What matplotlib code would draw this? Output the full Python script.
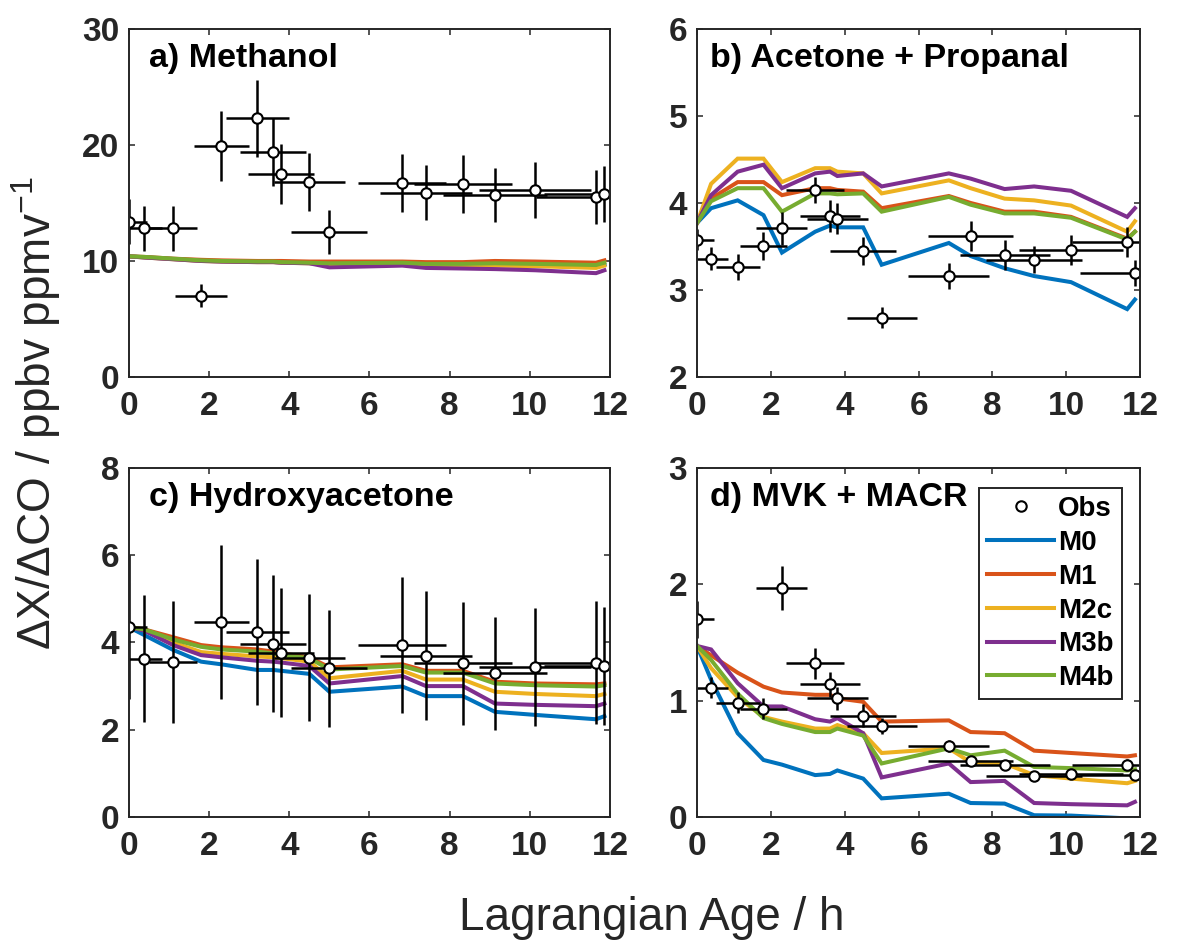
import numpy as np
import matplotlib
matplotlib.use("Agg")
import matplotlib.pyplot as plt
from matplotlib.lines import Line2D

plt.rcParams['font.family'] = ['Liberation Sans', 'DejaVu Sans']
plt.rcParams['mathtext.fontset'] = 'custom'
plt.rcParams['mathtext.rm'] = 'Liberation Sans'
plt.rcParams['mathtext.it'] = 'Liberation Sans'

# Lagrangian age of each plume sample (h) and its uncertainty
age = [0.0, 0.38, 1.1, 1.8, 2.3, 3.2, 3.6, 3.8, 4.5, 5.0, 6.82, 7.41, 8.33, 9.13, 10.13, 11.65, 11.86]
age_err = [0.45, 0.45, 0.6, 0.64, 0.69, 0.78, 0.82, 0.82, 0.89, 0.95, 1.1, 1.15, 1.22, 1.3, 1.4, 1.5, 1.5]

nan = np.nan

# a) Methanol
meoh_obs = [13.4, 12.8, 12.8, 7.0, 19.9, 22.3, 19.4, 17.5, 16.8, 12.5, 16.7, 15.9, 16.6, 15.7, 16.1, 15.5, 15.8]
meoh_err = [1.9, 1.9, 1.9, 1.0, 3.0, 3.3, 2.9, 2.6, 2.5, 1.9, 2.5, 2.4, 2.5, 2.3, 2.4, 2.3, 2.4]
meoh_M0 = [10.4, 10.32, 10.17, 10.02, 9.97, 9.92, 9.92, 9.87, 9.82, 9.7, 9.8, 9.68, 9.67, 9.7, 9.65, 9.5, 9.7]
meoh_M1 = [10.4, 10.35, 10.2, 10.1, 10.05, 10.0, 10.0, 10.0, 9.95, 9.95, 9.95, 9.9, 9.9, 10.0, 9.95, 9.85, 10.05]
meoh_M2c = [10.4, 10.3, 10.15, 10.0, 9.95, 9.9, 9.9, 9.85, 9.8, 9.65, 9.75, 9.6, 9.6, 9.6, 9.55, 9.4, 9.6]
meoh_M3b = [10.4, 10.3, 10.15, 10.0, 9.95, 9.9, 9.9, 9.85, 9.8, 9.45, 9.6, 9.4, 9.35, 9.3, 9.2, 8.95, 9.2]
meoh_M4b = [10.4, 10.35, 10.2, 10.05, 10.0, 9.95, 9.95, 9.9, 9.85, 9.8, 9.85, 9.75, 9.75, 9.8, 9.75, 9.65, 9.85]

# b) Acetone + Propanal
acet_obs = [3.58, 3.36, 3.26, 3.51, 3.71, 4.15, 3.85, 3.82, 3.45, 2.68, 3.16, 3.62, 3.40, 3.35, 3.46, 3.55, 3.20]
acet_err = [0.12, 0.13, 0.15, 0.16, 0.19, 0.15, 0.18, 0.18, 0.16, 0.12, 0.15, 0.17, 0.17, 0.16, 0.17, 0.17, 0.15]
acet_M0 = [3.77, 3.94, 4.03, 3.86, 3.43, 3.67, 3.74, 3.72, 3.72, 3.29, 3.54, 3.39, 3.25, 3.16, 3.09, 2.78, 2.89]
acet_M1 = [3.77, 4.05, 4.24, 4.24, 4.09, 4.17, 4.17, 4.15, 4.13, 3.94, 4.08, 4.0, 3.9, 3.9, 3.84, 3.59, 3.67]
acet_M2c = [3.77, 4.22, 4.51, 4.51, 4.24, 4.4, 4.4, 4.36, 4.34, 4.11, 4.26, 4.17, 4.05, 4.03, 3.97, 3.67, 3.79]
acet_M3b = [3.77, 4.09, 4.36, 4.44, 4.17, 4.34, 4.36, 4.31, 4.34, 4.19, 4.34, 4.28, 4.16, 4.19, 4.14, 3.84, 3.94]
acet_M4b = [3.77, 4.02, 4.17, 4.17, 3.9, 4.11, 4.11, 4.1, 4.11, 3.9, 4.07, 3.98, 3.88, 3.88, 3.83, 3.58, 3.67]

# c) Hydroxyacetone (no sample at 1.8 h)
hyac_obs = [4.35, 3.63, 3.55, nan, 4.47, 4.24, 3.97, 3.77, 3.65, 3.41, 3.94, 3.70, 3.52, 3.29, 3.43, 3.54, 3.46]
hyac_err = [1.65, 1.45, 1.4, nan, 1.77, 1.68, 1.57, 1.48, 1.45, 1.34, 1.56, 1.47, 1.41, 1.3, 1.35, 1.42, 1.35]
hyac_M0 = [4.35, 4.17, 3.83, 3.56, 3.5, 3.37, 3.37, 3.35, 3.28, 2.87, 2.99, 2.77, 2.77, 2.41, 2.34, 2.24, 2.31]
hyac_M1 = [4.35, 4.3, 4.12, 3.94, 3.89, 3.84, 3.79, 3.75, 3.66, 3.43, 3.5, 3.35, 3.35, 3.1, 3.06, 3.04, 3.06]
hyac_M2c = [4.35, 4.29, 4.0, 3.78, 3.74, 3.68, 3.66, 3.64, 3.56, 3.18, 3.35, 3.15, 3.15, 2.87, 2.82, 2.77, 2.82]
hyac_M3b = [4.35, 4.27, 3.94, 3.71, 3.66, 3.58, 3.56, 3.54, 3.46, 3.06, 3.23, 3.0, 3.0, 2.6, 2.57, 2.54, 2.6]
hyac_M4b = [4.35, 4.3, 4.07, 3.9, 3.84, 3.79, 3.75, 3.71, 3.64, 3.38, 3.46, 3.31, 3.31, 3.06, 3.02, 2.99, 3.02]

# d) MVK + MACR
mvk_obs = [1.70, 1.11, 0.98, 0.93, 1.97, 1.32, 1.14, 1.02, 0.87, 0.78, 0.61, 0.48, 0.45, 0.35, 0.37, 0.45, 0.36]
mvk_err = [0.16, 0.09, 0.09, 0.09, 0.19, 0.13, 0.11, 0.1, 0.1, 0.07, 0.05, 0.04, 0.04, 0.04, 0.04, 0.05, 0.04]
mvk_M0 = [1.47, 1.18, 0.72, 0.49, 0.45, 0.36, 0.37, 0.40, 0.33, 0.16, 0.2, 0.12, 0.115, 0.015, 0.012, -0.012, -0.01]
mvk_M1 = [1.47, 1.39, 1.24, 1.12, 1.07, 1.05, 1.05, 1.02, 0.99, 0.82, 0.83, 0.73, 0.72, 0.57, 0.55, 0.52, 0.53]
mvk_M2c = [1.47, 1.28, 1.03, 0.86, 0.82, 0.76, 0.76, 0.79, 0.72, 0.55, 0.59, 0.47, 0.46, 0.36, 0.33, 0.29, 0.31]
mvk_M3b = [1.47, 1.44, 1.15, 0.95, 0.95, 0.84, 0.82, 0.85, 0.72, 0.34, 0.46, 0.30, 0.31, 0.12, 0.11, 0.10, 0.13]
mvk_M4b = [1.47, 1.35, 1.06, 0.85, 0.80, 0.73, 0.73, 0.76, 0.70, 0.46, 0.59, 0.53, 0.57, 0.43, 0.42, 0.40, 0.41]

model_names = ['M0', 'M1', 'M2c', 'M3b', 'M4b']
model_colors = ['#0072BD', '#D95319', '#EDB120', '#7E2F8E', '#77AC30']

panels = [
    ('a) Methanol', meoh_obs, meoh_err, [meoh_M0, meoh_M1, meoh_M2c, meoh_M3b, meoh_M4b], (0, 30), [0, 10, 20, 30]),
    ('b) Acetone + Propanal', acet_obs, acet_err, [acet_M0, acet_M1, acet_M2c, acet_M3b, acet_M4b], (2, 6), [2, 3, 4, 5, 6]),
    ('c) Hydroxyacetone', hyac_obs, hyac_err, [hyac_M0, hyac_M1, hyac_M2c, hyac_M3b, hyac_M4b], (0, 8), [0, 2, 4, 6, 8]),
    ('d) MVK + MACR', mvk_obs, mvk_err, [mvk_M0, mvk_M1, mvk_M2c, mvk_M3b, mvk_M4b], (0, 3), [0, 1, 2, 3]),
]

boxes = [
    [0.1073, 0.5994, 0.4002, 0.3698],
    [0.5799, 0.5994, 0.3686, 0.3698],
    [0.1073, 0.1318, 0.4002, 0.3709],
    [0.5799, 0.1318, 0.3686, 0.3709],
]
title_x = [0.042, 0.030, 0.042, 0.030]

ink = '#262626'
fig = plt.figure(figsize=(12.02, 9.41), dpi=100)

for (title, obs, err, models, ylim, yticks), box, tx in zip(panels, boxes, title_x):
    ax = fig.add_axes(box)
    for vals, col in zip(models, model_colors):
        ax.plot(age, vals, color=col, lw=2.9, solid_joinstyle='miter')
    ax.errorbar(age, obs, yerr=err, xerr=age_err, fmt='o', color='k',
                mfc='white', mec='k', ms=7.5, mew=1.5, elinewidth=1.8, capsize=0)
    ax.set_xlim(0, 12)
    ax.set_ylim(*ylim)
    ax.set_xticks(range(0, 13, 2))
    ax.set_yticks(yticks)
    ax.tick_params(direction='in', length=4, width=1.1, colors=ink,
                   top=True, right=True, labelsize=24)
    ax.tick_params(axis='x', pad=10)
    ax.tick_params(axis='y', pad=7)
    for lab in ax.get_xticklabels() + ax.get_yticklabels():
        lab.set_fontweight('bold')
    for sp in ax.spines.values():
        sp.set_linewidth(1.4)
        sp.set_color(ink)
    ax.text(tx, 0.89, title, transform=ax.transAxes, fontsize=24.5,
            fontweight='bold', color='k', va='baseline', ha='left')

# legend only in the MVK + MACR panel
handles = [Line2D([], [], ls='none', marker='o', mfc='white', mec='k', ms=7.5, mew=1.5)]
handles += [Line2D([], [], color=c, lw=2.9) for c in model_colors]
leg = ax.legend(handles, ['Obs'] + model_names, loc='upper right',
                bbox_to_anchor=(0.959, 0.943), prop={'weight': 'bold', 'size': 20},
                handlelength=2.4, handletextpad=0.15, labelspacing=0.28,
                borderpad=0.3, borderaxespad=0, fancybox=False, framealpha=1,
                edgecolor=ink)
leg.get_frame().set_linewidth(1.4)

fig.text(0.030, 0.561, r'$\Delta$X/$\Delta$CO / ppbv ppmv$^{-1}$', rotation=90,
         ha='center', va='center', fontsize=33, color=ink)
fig.text(0.542, 0.024, 'Lagrangian Age / h', ha='center', va='center',
         fontsize=33, color=ink)

fig.savefig('out.png', dpi=100)
